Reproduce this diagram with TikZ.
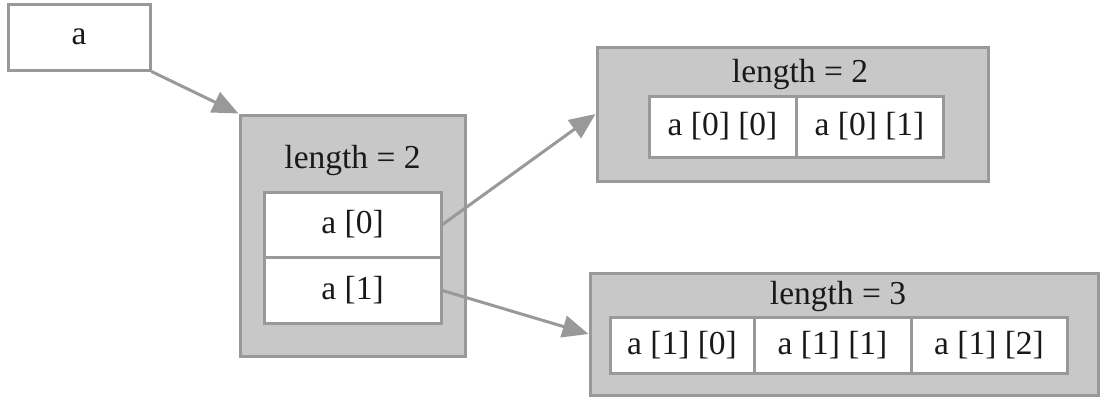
\documentclass[tikz,border=0pt]{standalone}
\usepackage{fontspec}
\setmainfont{Liberation Serif}
\usetikzlibrary{arrows.meta}

\definecolor{boxgray}{HTML}{C8C8C8}
\definecolor{linegray}{HTML}{999999}

\begin{document}
\begin{tikzpicture}[x=1pt, y=-1pt,
	every node/.style={font=\fontsize{33.5}{38}\selectfont, text=black!90, inner sep=0pt},
	cell/.style={rectangle, draw=linegray, line width=3pt, fill=white},
	frame/.style={rectangle, draw=linegray, line width=3pt, fill=boxgray},
	ref/.style={-{Triangle[length=26pt, width=22pt]}, draw=linegray, line width=3pt}]
	\useasboundingbox (0,0) rectangle (1104,400);
	% Nodes
	\node[cell, minimum width=142pt, minimum height=66pt] (a) at (79,37) {a};
	
	\node[frame, minimum width=225pt, minimum height=241pt] (arr) at (352.5,235.5) {};
	\node (len) at (352.5,160) {length = 2};
	\node[cell, minimum width=177pt, minimum height=65pt] (a0) at (352.5,224.5) {a [0]};
	\node[cell, minimum width=177pt, minimum height=66pt] (a1) at (352.5,290.5) {a [1]};
	
	\node[frame, minimum width=391pt, minimum height=134pt] (row0) at (792.5,114) {};
	\node (len0) at (800,74) {length = 2};
	\node[cell, minimum width=147pt, minimum height=61pt] (a00) at (722.5,126.5) {a [0] [0]};
	\node[cell, minimum width=147pt, minimum height=61pt] (a01) at (869.5,126.5) {a [0] [1]};
	
	\node[frame, minimum width=508pt, minimum height=122pt] (row1) at (844,334) {};
	\node (len1) at (838,296) {length = 3};
	\node[cell, minimum width=144pt, minimum height=56pt] (a10) at (682,345) {a [1] [0]};
	\node[cell, minimum width=157pt, minimum height=56pt] (a11) at (832.5,345) {a [1] [1]};
	\node[cell, minimum width=156pt, minimum height=56pt] (a12) at (989,345) {a [1] [2]};
	
	% Edges
	\draw[ref] (a.south east) -- (arr.north west);
	\draw[ref] (a0.east) -- (row0.west);
	\draw[ref] (a1.east) -- (row1.west);
\end{tikzpicture}
\end{document}
